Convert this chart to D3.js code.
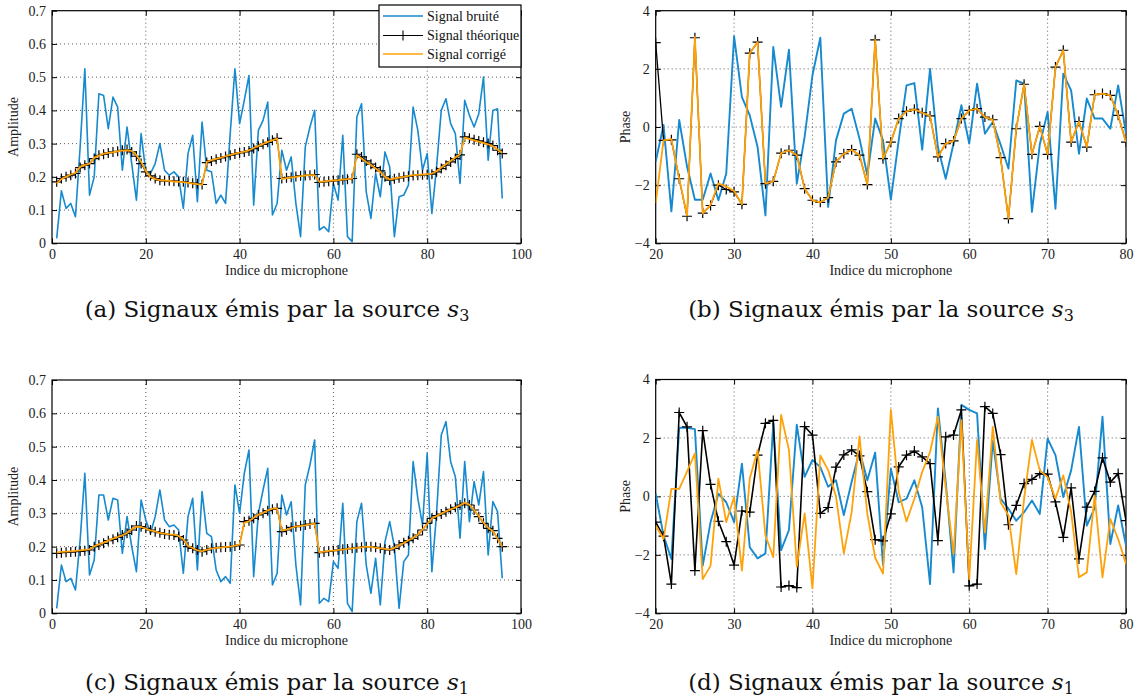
<!DOCTYPE html>
<html><head><meta charset="utf-8">
<script src="https://cdn.jsdelivr.net/npm/d3@7"></script>
<style>body{margin:0;background:#fff} svg{display:block}</style>
</head><body><svg id="c" width="1139" height="697"></svg>
<script>
// ---------- DATA ----------
const micAmp = d3.range(1, 97);      // microphone indices 1..96 (panels a, c)
const micPhase = d3.range(20, 81);   // microphone indices 20..80 (panels b, d)

const ampXTicks = [0, 20, 40, 60, 80, 100];
const ampYTicks = [0, 0.1, 0.2, 0.3, 0.4, 0.5, 0.6, 0.7];
const phXTicks = [20, 30, 40, 50, 60, 70, 80];
const phYTicks = [-4, -2, 0, 2, 4];

const legendLabels = ["Signal bruité", "Signal théorique", "Signal corrigé"];
const xTitle = "Indice du microphone";

// Panel (a) amplitude, source s3
const aNoisy = [0.015,0.158,0.105,0.12,0.08,0.29,0.525,0.145,0.2,0.45,0.445,0.345,0.44,0.41,0.22,0.35,0.24,0.13,0.33,0.215,0.21,0.24,0.3,0.22,0.205,0.215,0.2,0.105,0.27,0.325,0.125,0.365,0.22,0.215,0.12,0.145,0.12,0.33,0.525,0.36,0.43,0.505,0.115,0.34,0.37,0.425,0.085,0.12,0.28,0.22,0.26,0.12,0.02,0.29,0.35,0.4,0.04,0.05,0.035,0.18,0.13,0.325,0.02,0.005,0.38,0.42,0.155,0.075,0.21,0.14,0.275,0.23,0.02,0.14,0.145,0.175,0.41,0.34,0.22,0.27,0.09,0.23,0.4,0.435,0.36,0.33,0.18,0.43,0.385,0.35,0.39,0.5,0.25,0.4,0.405,0.135];
const aTheo = [0.185,0.195,0.2,0.205,0.21,0.228,0.235,0.24,0.255,0.265,0.268,0.272,0.275,0.277,0.28,0.282,0.275,0.262,0.24,0.215,0.203,0.195,0.19,0.188,0.188,0.187,0.186,0.185,0.183,0.181,0.179,0.177,0.243,0.248,0.253,0.257,0.261,0.265,0.269,0.272,0.275,0.278,0.285,0.292,0.298,0.304,0.31,0.316,0.195,0.197,0.199,0.201,0.203,0.204,0.205,0.207,0.183,0.185,0.187,0.188,0.19,0.191,0.193,0.195,0.268,0.26,0.248,0.238,0.228,0.218,0.2,0.19,0.194,0.197,0.2,0.202,0.204,0.205,0.206,0.207,0.208,0.215,0.225,0.235,0.245,0.255,0.266,0.32,0.316,0.312,0.308,0.304,0.3,0.294,0.28,0.27];
const aCorr = [0.18,0.193,0.2,0.207,0.212,0.23,0.236,0.24,0.257,0.264,0.27,0.272,0.274,0.277,0.279,0.28,0.278,0.265,0.245,0.218,0.2,0.193,0.19,0.189,0.188,0.186,0.185,0.184,0.182,0.18,0.178,0.176,0.245,0.25,0.254,0.258,0.262,0.266,0.27,0.273,0.276,0.28,0.287,0.293,0.299,0.305,0.31,0.315,0.193,0.196,0.198,0.2,0.202,0.204,0.205,0.205,0.185,0.186,0.188,0.189,0.19,0.192,0.193,0.195,0.265,0.255,0.245,0.236,0.225,0.215,0.2,0.192,0.195,0.198,0.2,0.203,0.205,0.206,0.207,0.208,0.21,0.217,0.228,0.238,0.248,0.258,0.268,0.318,0.314,0.31,0.306,0.302,0.298,0.292,0.282,0.272];

// Panel (c) amplitude, source s1
const cNoisy = [0.015,0.145,0.095,0.105,0.07,0.22,0.42,0.115,0.16,0.355,0.355,0.28,0.345,0.34,0.18,0.29,0.2,0.125,0.34,0.28,0.24,0.29,0.37,0.28,0.26,0.265,0.25,0.12,0.29,0.345,0.13,0.365,0.24,0.23,0.13,0.095,0.11,0.09,0.385,0.3,0.42,0.49,0.11,0.3,0.37,0.435,0.085,0.12,0.355,0.295,0.335,0.145,0.025,0.385,0.445,0.52,0.03,0.045,0.035,0.155,0.135,0.33,0.03,0.005,0.275,0.33,0.145,0.06,0.165,0.025,0.215,0.275,0.2,0.015,0.155,0.175,0.455,0.345,0.265,0.48,0.125,0.3,0.535,0.575,0.455,0.41,0.225,0.455,0.275,0.395,0.325,0.425,0.175,0.335,0.305,0.105];
const cTheo = [0.18,0.182,0.183,0.184,0.185,0.186,0.188,0.19,0.2,0.205,0.21,0.218,0.222,0.228,0.235,0.24,0.25,0.262,0.26,0.255,0.25,0.245,0.242,0.238,0.236,0.235,0.23,0.22,0.2,0.195,0.19,0.185,0.19,0.195,0.197,0.198,0.199,0.2,0.202,0.205,0.275,0.278,0.285,0.295,0.3,0.308,0.312,0.315,0.245,0.25,0.258,0.26,0.263,0.265,0.268,0.27,0.182,0.184,0.186,0.188,0.19,0.192,0.193,0.195,0.197,0.198,0.2,0.2,0.198,0.195,0.192,0.19,0.195,0.205,0.212,0.218,0.225,0.235,0.25,0.27,0.285,0.293,0.298,0.305,0.312,0.318,0.325,0.33,0.325,0.31,0.29,0.27,0.255,0.248,0.225,0.2];
const cCorr = [0.182,0.184,0.185,0.186,0.187,0.189,0.19,0.192,0.201,0.207,0.212,0.218,0.224,0.229,0.234,0.241,0.252,0.26,0.259,0.254,0.249,0.246,0.241,0.239,0.237,0.236,0.232,0.222,0.202,0.196,0.189,0.186,0.191,0.194,0.196,0.197,0.199,0.2,0.203,0.206,0.272,0.276,0.287,0.296,0.301,0.309,0.314,0.315,0.248,0.251,0.256,0.261,0.262,0.264,0.267,0.27,0.183,0.185,0.187,0.188,0.19,0.191,0.193,0.195,0.196,0.198,0.2,0.199,0.197,0.195,0.193,0.191,0.196,0.204,0.211,0.219,0.226,0.236,0.251,0.268,0.284,0.292,0.299,0.306,0.312,0.317,0.324,0.332,0.326,0.31,0.291,0.272,0.256,0.247,0.224,0.2];

// Panel (b) phase, source s3
const bNoisy = [-1.19,0.07,-2.9,0.24,-1.36,-2.5,-2.5,-1.6,-2.52,-1.6,3.12,1.03,0.4,-0.69,-3.04,2.75,0.69,2.66,-1.95,-0.34,1.78,3.07,-2.75,-0.46,0.46,0.63,-0.4,-1.66,0.29,-0.46,-2.5,-0.46,1.43,1.51,-0.78,2.0,-0.69,-1.78,-0.57,0.75,-0.57,1.49,-0.23,0.17,-0.6,-1.43,1.6,1.49,-2.92,-0.6,0.52,-2.81,1.83,1.26,-0.92,0.98,0.29,0.29,-0.06,1.43,-0.23];
const bTheo = [2.9,-0.46,-0.44,-1.78,-3.07,3.07,-2.96,-2.7,-2.0,-2.15,-2.23,-2.66,2.54,2.92,-1.95,-1.87,-0.9,-0.8,-0.97,-2.12,-2.52,-2.59,-2.43,-1.2,-0.92,-0.78,-0.97,-1.98,3.0,-1.09,-0.52,0.29,0.54,0.61,0.49,0.38,-1.03,-0.57,-0.48,0.29,0.57,0.63,0.34,0.25,-1.05,-3.15,-0.06,1.47,-0.94,0.02,-0.94,2.06,2.64,-0.52,0.19,-0.69,1.11,1.15,1.09,0.4,-0.52];
const bCorr = [-2.62,-0.46,-0.42,-1.78,-3.05,3.1,-2.97,-2.68,-1.94,-2.05,-2.2,-2.66,2.54,2.92,-1.95,-1.87,-0.9,-0.8,-0.97,-2.12,-2.52,-2.59,-2.43,-1.2,-0.92,-0.78,-0.97,-1.98,3.0,-1.09,-0.52,0.29,0.54,0.61,0.49,0.38,-1.03,-0.57,-0.48,0.29,0.57,0.63,0.34,0.25,-1.05,-3.15,-0.06,1.47,-0.94,0.02,-0.94,2.06,2.64,-0.52,0.19,-0.69,1.11,1.15,1.09,0.4,-0.52];

// Panel (d) phase, source s1
const dNoisy = [0.09,-1.34,-2.14,2.35,2.35,2.3,-2.37,-0.88,0.09,-0.2,-0.88,1.12,-1.74,-2.12,-1.95,2.5,-1.84,-1.15,2.45,0.67,1.25,1.0,0.33,0.55,-0.64,0.5,1.55,0.55,1.5,-2.35,0.95,-0.2,-0.08,0.55,-0.37,-3.0,3.01,0.5,-2.6,3.13,2.96,2.84,-1.8,1.9,-0.08,-0.42,-0.83,-0.54,-0.14,-0.6,1.98,1.41,-0.02,0.89,2.38,-1.0,-0.4,2.73,-1.63,-0.31,-1.68];
const dTheo = [-0.88,-1.36,-3.0,2.87,2.38,-2.54,2.25,0.41,-0.85,-1.55,-2.35,-0.5,-0.54,1.41,2.5,2.6,-3.1,-3.05,-3.12,2.39,2.1,-0.58,-0.38,1.0,1.42,1.59,1.39,0.16,-1.48,-1.52,-0.6,1.01,1.41,1.55,1.35,1.12,-1.51,2.04,2.1,2.96,-3.06,-3.0,3.07,2.84,1.43,-0.97,-0.31,0.44,0.58,0.78,0.76,-0.19,-1.4,0.29,-2.14,-0.37,0.17,1.32,0.49,0.78,-0.83];
const dCorr = [-1.0,-1.46,0.26,0.26,0.85,1.47,-2.83,-2.37,0.61,-0.88,-0.02,-2.54,0.61,1.58,-1.34,-2.08,2.79,1.59,-2.4,-0.58,-3.15,1.4,0.9,0.0,-1.95,-0.54,2.05,-0.6,-2.1,-2.64,2.96,0.15,-0.86,-0.08,0.84,1.52,2.73,0.3,-1.97,2.61,-2.83,1.93,-1.23,2.38,-0.2,-0.65,-2.66,-0.08,1.93,0.89,0.66,-0.08,0.72,-0.54,-2.77,-2.6,0.03,-2.77,-0.77,-1.46,-2.31];

// ---------- STYLE ----------
const BLUE = "#1689cf", ORANGE = "#ffa20a", BLACK = "#000";
const TICKFONT = "Liberation Serif";
const svg = d3.select("#c");

function panel(o) {
  const {l, t, r, b} = o.box;
  const x = d3.scaleLinear().domain(o.xDomain).range([l, r]);
  const y = d3.scaleLinear().domain(o.yDomain).range([b, t]);
  const g = svg.append("g");
  const cid = "clip" + o.id;
  svg.append("clipPath").attr("id", cid).append("rect")
    .attr("x", l).attr("y", t).attr("width", r - l).attr("height", b - t);

  // grid
  const grid = g.append("g").attr("stroke", "#333").attr("stroke-width", 0.8)
    .attr("stroke-dasharray", "1,3");
  o.xTicks.slice(1, -1).forEach(v => grid.append("line")
    .attr("x1", x(v)).attr("x2", x(v)).attr("y1", t).attr("y2", b));
  o.yTicks.slice(1, -1).forEach(v => grid.append("line")
    .attr("x1", l).attr("x2", r).attr("y1", y(v)).attr("y2", y(v)));

  // axes with inward ticks on all sides
  const tl = 5;
  const axB = g.append("g").attr("transform", `translate(0,${b})`)
    .call(d3.axisBottom(x).tickValues(o.xTicks).tickSize(-tl).tickPadding(6).tickFormat(d3.format("d")));
  const axT = g.append("g").attr("transform", `translate(0,${t})`)
    .call(d3.axisTop(x).tickValues(o.xTicks).tickSize(-tl).tickFormat(""));
  const axL = g.append("g").attr("transform", `translate(${l},0)`)
    .call(d3.axisLeft(y).tickValues(o.yTicks).tickSize(-tl).tickPadding(6).tickFormat(o.yFmt));
  const axR = g.append("g").attr("transform", `translate(${r},0)`)
    .call(d3.axisRight(y).tickValues(o.yTicks).tickSize(-tl).tickFormat(""));
  [axB, axT, axL, axR].forEach(a => {
    a.select(".domain").remove();
    a.selectAll("line").attr("stroke", "#000");
    a.selectAll("text").attr("font-family", TICKFONT).attr("font-size", 14).attr("fill", "#222");
  });
  g.append("rect").attr("x", l).attr("y", t).attr("width", r - l).attr("height", b - t)
    .attr("fill", "none").attr("stroke", "#000").attr("stroke-width", 1.2);

  // series
  const data = (vals) => o.xs.map((xi, i) => [xi, vals[i]]);
  const line = d3.line().x(d => x(d[0])).y(d => y(d[1]));
  const plot = g.append("g").attr("clip-path", `url(#${cid})`);
  plot.append("path").attr("d", line(data(o.noisy))).attr("fill", "none")
    .attr("stroke", BLUE).attr("stroke-width", o.blueW).attr("stroke-linejoin", "round");
  plot.append("path").attr("d", line(data(o.theo))).attr("fill", "none")
    .attr("stroke", BLACK).attr("stroke-width", o.blackW);
  const ms = 5;
  plot.append("g").selectAll("path").data(data(o.theo)).join("path")
    .attr("d", d => `M${x(d[0]) - ms},${y(d[1])}H${x(d[0]) + ms}M${x(d[0])},${y(d[1]) - ms}V${y(d[1]) + ms}`)
    .attr("stroke", BLACK).attr("stroke-width", 1.2);
  plot.append("path").attr("d", line(data(o.corr))).attr("fill", "none")
    .attr("stroke", ORANGE).attr("stroke-width", 1.8).attr("stroke-linejoin", "round");

  // axis titles
  g.append("text").attr("x", (l + r) / 2).attr("y", b + 32).attr("text-anchor", "middle")
    .attr("font-family", TICKFONT).attr("font-size", 14).attr("fill", "#222").text(xTitle);
  g.append("text").attr("transform", `translate(${o.yTitleX},${(t + b) / 2}) rotate(-90)`)
    .attr("text-anchor", "middle").attr("font-family", TICKFONT).attr("font-size", 14)
    .attr("fill", "#222").text(o.yTitle);

  // caption
  const cap = svg.append("text").attr("x", o.capX).attr("y", o.capY).attr("text-anchor", "middle")
    .attr("font-family", "DejaVu Serif").attr("font-size", 23).attr("fill", "#111");
  cap.append("tspan").text(o.capText + " ");
  cap.append("tspan").attr("font-style", "italic").text("s");
  cap.append("tspan").attr("font-size", 16).attr("dy", 4).text(o.capSub);

  if (o.legend) {
    const lg = svg.append("g");
    const L = 379, T = 5, R = 521, B = 67;
    lg.append("rect").attr("x", L).attr("y", T).attr("width", R - L).attr("height", B - T)
      .attr("fill", "#fff").attr("stroke", "#000").attr("stroke-width", 1.2);
    const rows = [16, 35.5, 54];
    const cols = [BLUE, BLACK, ORANGE];
    legendLabels.forEach((lab, i) => {
      lg.append("line").attr("x1", 383).attr("x2", 423).attr("y1", rows[i]).attr("y2", rows[i])
        .attr("stroke", cols[i]).attr("stroke-width", i === 1 ? 1.1 : 1.6);
      if (i === 1) lg.append("path").attr("d", `M${403 - ms},${rows[i]}H${403 + ms}M403,${rows[i] - ms}V${rows[i] + ms}`)
        .attr("stroke", BLACK).attr("stroke-width", 1.1);
      lg.append("text").attr("x", 427).attr("y", rows[i] + 4.5).attr("font-family", TICKFONT)
        .attr("font-size", 14).attr("fill", "#111").text(lab);
    });
  }
}

const fmtAmp = d => d === 0 ? "0" : d3.format(".1f")(d);
const fmtPh = d3.format("d");

panel({id: "a", box: {l: 52, t: 10.7, r: 521, b: 243.3}, xDomain: [0, 100], yDomain: [0, 0.7],
  xTicks: ampXTicks, yTicks: ampYTicks, yFmt: fmtAmp, yTitle: "Amplitude", yTitleX: 18,
  xs: micAmp, noisy: aNoisy, theo: aTheo, corr: aCorr, legend: true, blueW: 1.6, blackW: 1.1,
  capText: "(a) Signaux émis par la source", capSub: "3", capX: 277, capY: 317});
panel({id: "b", box: {l: 655.7, t: 10.7, r: 1126, b: 243.3}, xDomain: [20, 80], yDomain: [-4, 4],
  xTicks: phXTicks, yTicks: phYTicks, yFmt: fmtPh, yTitle: "Phase", yTitleX: 630,
  xs: micPhase, noisy: bNoisy, theo: bTheo, corr: bCorr, blueW: 1.9, blackW: 1.3,
  capText: "(b) Signaux émis par la source", capSub: "3", capX: 881, capY: 317});
panel({id: "c", box: {l: 52, t: 380, r: 521, b: 613.3}, xDomain: [0, 100], yDomain: [0, 0.7],
  xTicks: ampXTicks, yTicks: ampYTicks, yFmt: fmtAmp, yTitle: "Amplitude", yTitleX: 18,
  xs: micAmp, noisy: cNoisy, theo: cTheo, corr: cCorr, blueW: 1.6, blackW: 1.1,
  capText: "(c) Signaux émis par la source", capSub: "1", capX: 277, capY: 690});
panel({id: "d", box: {l: 655.7, t: 379.5, r: 1126, b: 613.3}, xDomain: [20, 80], yDomain: [-4, 4],
  xTicks: phXTicks, yTicks: phYTicks, yFmt: fmtPh, yTitle: "Phase", yTitleX: 630,
  xs: micPhase, noisy: dNoisy, theo: dTheo, corr: dCorr, blueW: 1.9, blackW: 1.6,
  capText: "(d) Signaux émis par la source", capSub: "1", capX: 881, capY: 690});
</script>
</body></html>
